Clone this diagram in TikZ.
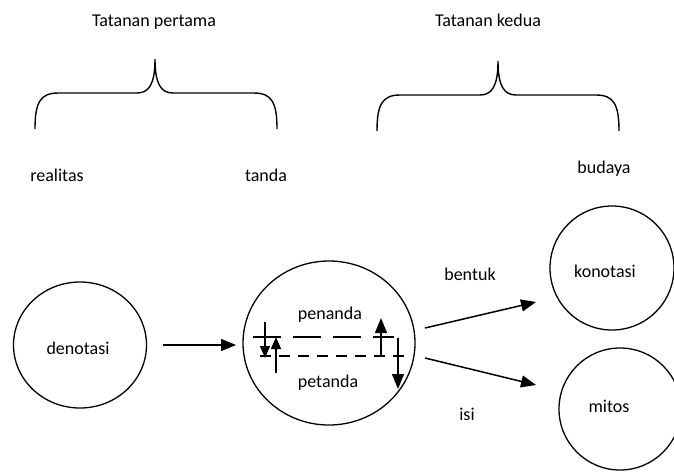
\documentclass[tikz,border=0pt]{standalone}
\usepackage{fontspec}
\setmainfont{Carlito}
\usetikzlibrary{arrows.meta,shapes.geometric}
\begin{document}
\begin{tikzpicture}[x=1pt,y=-1pt,
  lbl/.style={font=\fontsize{18}{21}\selectfont, inner sep=0pt, anchor=base},
  ring/.style={draw, ellipse, line width=1.3pt, inner sep=0pt},
  brc/.style={line width=1.4pt},
  bigarrow/.style={line width=1.5pt, -{Triangle[length=15pt,width=12pt]}},
  smallarrow/.style={line width=1.3pt, -{Triangle[length=12pt,width=10pt]}},
  smallarrowb/.style={line width=1.3pt, -{Triangle[length=15pt,width=12pt]}},
  longdash/.style={line width=1.3pt, dash pattern=on 28pt off 12pt},
  shortdash/.style={line width=1.3pt, dash pattern=on 11pt off 8pt},
]
\useasboundingbox (0,0) rectangle (674,472);

% titles
\node[lbl] (t1) at (154,26) {Tatanan pertama};
\node[lbl] (t2) at (488,26) {Tatanan kedua};

% braces
\draw[brc] (35,129) .. controls (35,103) and (40,93) .. (58,93) -- (137,93)
  .. controls (149,93) and (155,84) .. (155,59)
  .. controls (155,84) and (161,93) .. (173,93) -- (254,93)
  .. controls (272,93) and (277,103) .. (277,129);
\draw[brc] (377,131) .. controls (377,105) and (382,95) .. (400,95) -- (480,95)
  .. controls (492,95) and (498,86) .. (498,61)
  .. controls (498,86) and (504,95) .. (516,95) -- (596,95)
  .. controls (614,95) and (619,105) .. (619,131);

% labels under braces
\node[lbl] (real) at (57,181) {realitas};
\node[lbl] (tanda) at (266,181) {tanda};
\node[lbl] (bud) at (604,173) {budaya};

% circles
\node[ring, minimum width=133pt, minimum height=126pt] (den) at (80,345) {};
\node[ring, minimum width=172pt, minimum height=164pt] (sig) at (329,343) {};
\node[ring, minimum width=124pt, minimum height=124pt] (kon) at (612,268) {};
\node[ring, minimum width=122pt, minimum height=122pt] (mit) at (620,409) {};

% texts
\node[lbl] (dent) at (78,354) {denotasi};
\node[lbl] (pen) at (330,319) {penanda};
\node[lbl] (pet) at (328,387) {petanda};
\node[lbl] (kont) at (605,277) {konotasi};
\node[lbl] (mitt) at (609,412) {mitos};
\node[lbl] (bent) at (470,280) {bentuk};
\node[lbl] (isi) at (467,420) {isi};

% main arrows
\coordinate (a1s) at (163,345);
\coordinate (a1e) at (236,345);
\draw[bigarrow] (a1s) -- (a1e);
\coordinate (a2s) at (425,328);
\coordinate (a2e) at (536,302);
\draw[bigarrow] (a2s) -- (a2e);
\coordinate (a3s) at (425,358);
\coordinate (a3e) at (536,385);
\draw[bigarrow] (a3s) -- (a3e);

% dashed lines inside the sign circle
\coordinate (u1) at (253,337);
\coordinate (u2) at (394,337);
\draw[longdash] (u1) -- (u2);
\coordinate (l1) at (260,356);
\coordinate (l2) at (408,356);
\draw[shortdash] (l1) -- (l2);

% small arrows
\coordinate (sa1) at (265,322);
\coordinate (sa2) at (265,358);
\draw[smallarrow] (sa1) -- (sa2);
\coordinate (sb1) at (276,373);
\coordinate (sb2) at (276,337);
\draw[smallarrow] (sb1) -- (sb2);
\coordinate (sc1) at (381,357);
\coordinate (sc2) at (381,318);
\draw[smallarrowb] (sc1) -- (sc2);
\coordinate (sd1) at (398,338);
\coordinate (sd2) at (398,389);
\draw[smallarrowb] (sd1) -- (sd2);
\end{tikzpicture}
\end{document}
